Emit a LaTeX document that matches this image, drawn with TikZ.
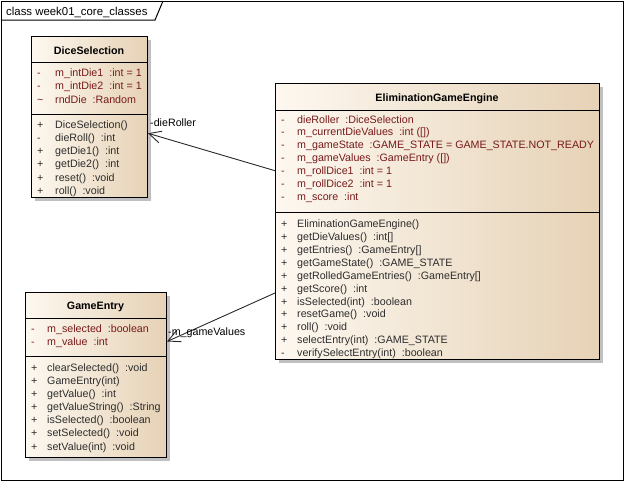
\documentclass[tikz,border=0pt]{standalone}
\usepackage{fontspec}
\setmainfont{Liberation Sans}
\usetikzlibrary{arrows.meta,shadows,calc}
\definecolor{attrc}{RGB}{120,26,26}
\definecolor{methc}{RGB}{45,45,45}
\definecolor{boxl}{RGB}{253,248,240}
\definecolor{boxr}{RGB}{230,210,182}
\definecolor{shad}{RGB}{192,192,192}
\definecolor{linec}{RGB}{40,40,40}
\newcommand\umlrowfont{\fontsize{10.7}{12.8}\selectfont}
\newcommand\umlrows[7]{%
  \foreach \v/\t [count=\i] in {#7} {%
    \node[#6] (#1\i) at ({#2},{#3+(\i-1)*#4}) {\makebox[#5pt][l]{\v}\t};}}
\begin{document}
\begin{tikzpicture}[x=1pt,y=-1pt,
  classbox/.style={draw=black, line width=1pt, anchor=north west, inner sep=0pt, outer sep=0pt,
    left color=boxl, right color=boxr,
    drop shadow={shadow xshift=4pt, shadow yshift=-4pt, fill=shad, opacity=1}},
  sepline/.style={line width=1pt, black},
  rowtext/.style={anchor=base west, inner sep=0pt, font=\umlrowfont},
  attr/.style={rowtext, text=attrc},
  meth/.style={rowtext, text=methc},
  ctitle/.style={anchor=base, inner sep=0pt, font=\umlrowfont\bfseries},
  assoc/.style={draw=linec, line width=0.9pt, -{Straight Barb[length=12pt,width=12pt,line width=0.9pt]}},
  lbl/.style={anchor=base west, inner sep=0pt, font=\umlrowfont, text=black}]
\useasboundingbox (0,0) rectangle (625,482);
% frame
\draw[line width=1pt] (1,1) rectangle (623.5,480.5);
\draw[line width=1pt] (1,20) -- (155,20) -- (163,1);
\node[anchor=base west, inner sep=0pt, font=\fontsize{11.4}{13}\selectfont] (frametitle) at (6,15) {class week01\_core\_classes};

% DiceSelection
\node[classbox, minimum width=116pt, minimum height=161pt] (ds) at (31,36) {};
\draw[sepline] ($(ds.north west)+(0,26)$) -- ($(ds.north east)+(0,26)$);
\draw[sepline] ($(ds.north west)+(0,78)$) -- ($(ds.north east)+(0,78)$);
\node[ctitle] (dst) at (89,54) {DiceSelection};
\umlrows{dsa}{37}{76.5}{13.3}{18}{attr}{-/{m\_intDie1~~:int = 1}, -/{m\_intDie2~~:int = 1}, \textasciitilde/{rndDie~~:Random}}
\umlrows{dsm}{37}{128}{13.3}{18}{meth}{+/{DiceSelection()}, -/{dieRoll()~~:int}, +/{getDie1()~~:int}, +/{getDie2()~~:int}, +/{reset()~~:void}, +/{roll()~~:void}}

% EliminationGameEngine
\node[classbox, minimum width=324pt, minimum height=276pt] (ege) at (275,83) {};
\draw[sepline] ($(ege.north west)+(0,27)$) -- ($(ege.north east)+(0,27)$);
\draw[sepline] ($(ege.north west)+(0,129)$) -- ($(ege.north east)+(0,129)$);
\node[ctitle] (eget) at (437,101) {EliminationGameEngine};
\umlrows{egea}{281}{123}{12.95}{16}{attr}{-/{dieRoller~~:DiceSelection}, -/{m\_currentDieValues~~:int ([])}, -/{m\_gameState~~:GAME\_STATE = GAME\_STATE.NOT\_READY}, -/{m\_gameValues~~:GameEntry ([])}, -/{m\_rollDice1~~:int = 1}, -/{m\_rollDice2~~:int = 1}, -/{m\_score~~:int}}
\umlrows{egem}{281}{227.5}{12.92}{16}{meth}{+/{EliminationGameEngine()}, +/{getDieValues()~~:int[]}, +/{getEntries()~~:GameEntry[]}, +/{getGameState()~~:GAME\_STATE}, +/{getRolledGameEntries()~~:GameEntry[]}, +/{getScore()~~:int}, +/{isSelected(int)~~:boolean}, +/{resetGame()~~:void}, +/{roll()~~:void}, +/{selectEntry(int)~~:GAME\_STATE}, -/{verifySelectEntry(int)~~:boolean}}

% GameEntry
\node[classbox, minimum width=141pt, minimum height=165pt] (ge) at (25,292) {};
\draw[sepline] ($(ge.north west)+(0,26)$) -- ($(ge.north east)+(0,26)$);
\draw[sepline] ($(ge.north west)+(0,64)$) -- ($(ge.north east)+(0,64)$);
\node[ctitle] (get) at (95.5,309) {GameEntry};
\umlrows{gea}{31}{332}{13.3}{16}{attr}{-/{m\_selected~~:boolean}, -/{m\_value~~:int}}
\umlrows{gem}{31}{371}{13.17}{16}{meth}{+/{clearSelected()~~:void}, +/{GameEntry(int)}, +/{getValue()~~:int}, +/{getValueString()~~:String}, +/{isSelected()~~:boolean}, +/{setSelected()~~:void}, +/{setValue(int)~~:void}}

% associations
\path (ege.north west) ++(0,87.7) coordinate (e1);
\path (ds.north east) ++(1,97.3) coordinate (d1);
\draw[assoc] (e1) -- (d1);
\node[lbl] (l1) at (150,126) {-dieRoller};
\path (ege.north west) ++(0,210) coordinate (e2);
\path (ge.north east) ++(1,49.5) coordinate (g1);
\draw[assoc] (e2) -- (g1);
\node[lbl] (l2) at (168,335) {-m\_gameValues};
\end{tikzpicture}
\end{document}
